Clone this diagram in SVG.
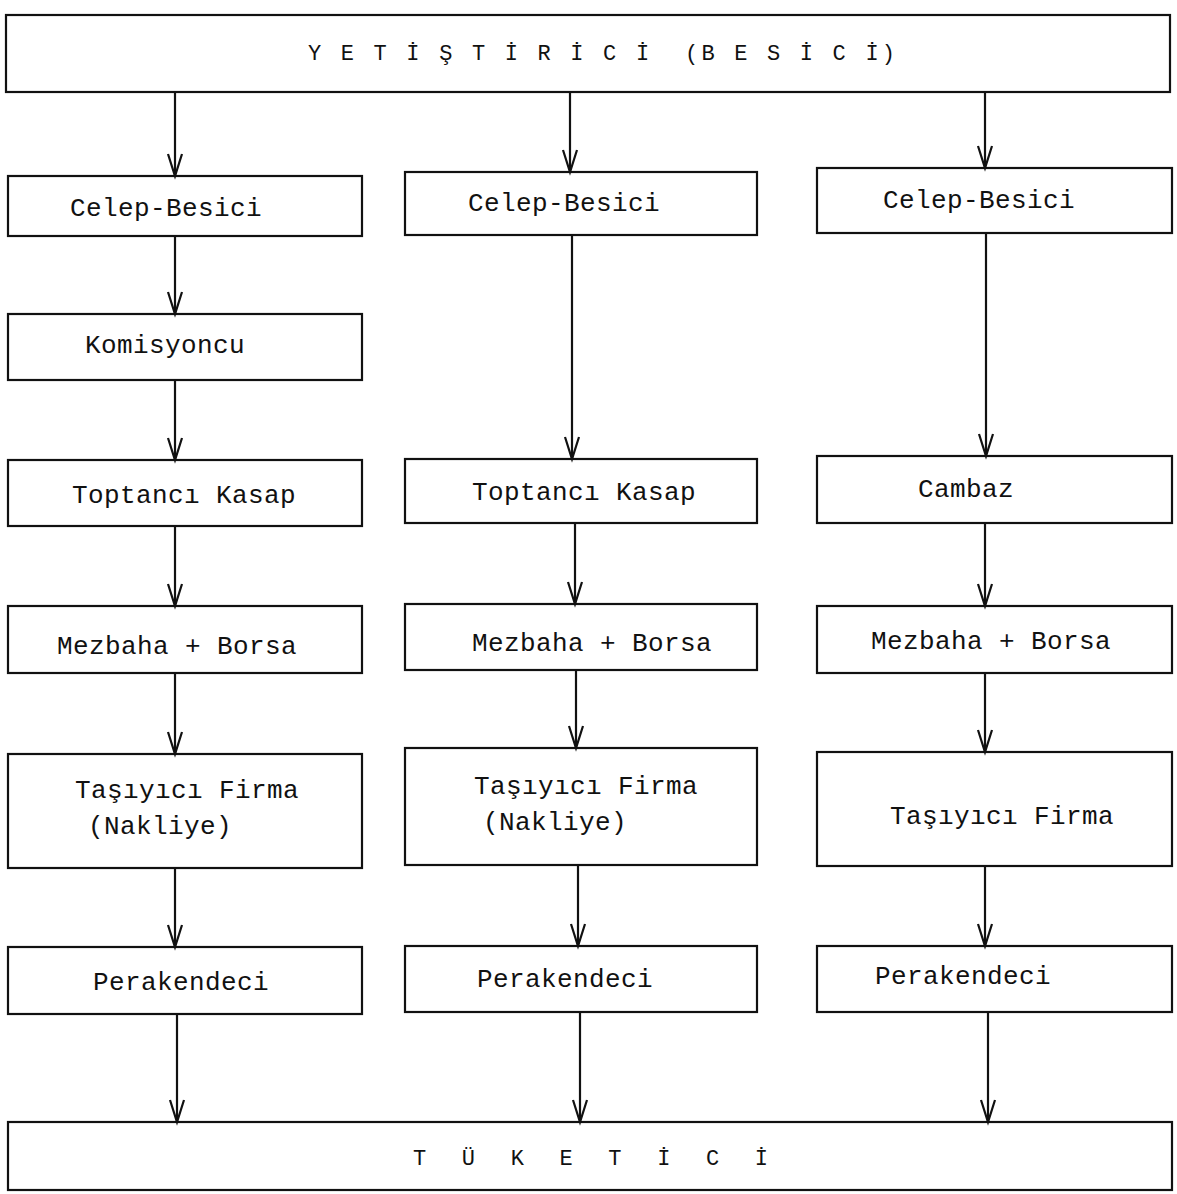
<svg xmlns="http://www.w3.org/2000/svg" width="1177" height="1194" viewBox="0 0 1177 1194">
<style>
.box{fill:none;stroke:#111;stroke-width:2.2}
.t{font-family:"Liberation Mono","DejaVu Sans Mono",monospace;font-size:26px;letter-spacing:0.4px;fill:#111}
.big{font-family:"Liberation Mono","DejaVu Sans Mono",monospace;font-size:22px;fill:#111;white-space:pre}
.c{stroke:#111;stroke-width:2.2;fill:none}
</style>
<defs>
<marker id="ah" markerUnits="userSpaceOnUse" markerWidth="30" markerHeight="20" refX="0" refY="0" orient="auto" overflow="visible">
<path d="M-22,-7 L0,0 L-22,7" fill="none" stroke="#111" stroke-width="2.2"/>
</marker>
</defs>
<rect width="1177" height="1194" fill="#fff"/>
<g id="n-top"><rect class="box" x="6" y="15" width="1164" height="77"/><text class="big" x="308" y="60" textLength="587" lengthAdjust="spacing" xml:space="preserve">Y E T İ Ş T İ R İ C İ  (B E S İ C İ)</text></g>
<g id="n-c1-celep"><rect class="box" x="8" y="176" width="354" height="60"/><text class="t" x="70" y="216">Celep-Besici</text></g>
<g id="n-c1-komis"><rect class="box" x="8" y="314" width="354" height="66"/><text class="t" x="85" y="353">Komisyoncu</text></g>
<g id="n-c1-toptan"><rect class="box" x="8" y="460" width="354" height="66"/><text class="t" x="72" y="503">Toptancı Kasap</text></g>
<g id="n-c1-mezbaha"><rect class="box" x="8" y="606" width="354" height="67"/><text class="t" x="57" y="654">Mezbaha + Borsa</text></g>
<g id="n-c1-tasiyici"><rect class="box" x="8" y="754" width="354" height="114"/><text class="t" x="75" y="798">Taşıyıcı Firma</text><text class="t" x="88" y="834">(Nakliye)</text></g>
<g id="n-c1-perak"><rect class="box" x="8" y="947" width="354" height="67"/><text class="t" x="93" y="990">Perakendeci</text></g>
<g id="n-c2-celep"><rect class="box" x="405" y="172" width="352" height="63"/><text class="t" x="468" y="211">Celep-Besici</text></g>
<g id="n-c2-toptan"><rect class="box" x="405" y="459" width="352" height="64"/><text class="t" x="472" y="500">Toptancı Kasap</text></g>
<g id="n-c2-mezbaha"><rect class="box" x="405" y="604" width="352" height="66"/><text class="t" x="472" y="651">Mezbaha + Borsa</text></g>
<g id="n-c2-tasiyici"><rect class="box" x="405" y="748" width="352" height="117"/><text class="t" x="474" y="794">Taşıyıcı Firma</text><text class="t" x="483" y="830">(Nakliye)</text></g>
<g id="n-c2-perak"><rect class="box" x="405" y="946" width="352" height="66"/><text class="t" x="477" y="987">Perakendeci</text></g>
<g id="n-c3-celep"><rect class="box" x="817" y="168" width="355" height="65"/><text class="t" x="883" y="208">Celep-Besici</text></g>
<g id="n-c3-cambaz"><rect class="box" x="817" y="456" width="355" height="67"/><text class="t" x="918" y="497">Cambaz</text></g>
<g id="n-c3-mezbaha"><rect class="box" x="817" y="606" width="355" height="67"/><text class="t" x="871" y="649">Mezbaha + Borsa</text></g>
<g id="n-c3-tasiyici"><rect class="box" x="817" y="752" width="355" height="114"/><text class="t" x="890" y="824">Taşıyıcı Firma</text></g>
<g id="n-c3-perak"><rect class="box" x="817" y="946" width="355" height="66"/><text class="t" x="875" y="984">Perakendeci</text></g>
<g id="n-bottom"><rect class="box" x="8" y="1122" width="1164" height="68"/><text class="big" x="413" y="1165" textLength="355" lengthAdjust="spacing">T Ü K E T İ C İ</text></g>
<g id="connectors">
<line class="c" x1="175" y1="92" x2="175" y2="176" marker-end="url(#ah)"/>
<line class="c" x1="175" y1="236" x2="175" y2="314" marker-end="url(#ah)"/>
<line class="c" x1="175" y1="380" x2="175" y2="460" marker-end="url(#ah)"/>
<line class="c" x1="175" y1="526" x2="175" y2="606" marker-end="url(#ah)"/>
<line class="c" x1="175" y1="673" x2="175" y2="754" marker-end="url(#ah)"/>
<line class="c" x1="175" y1="868" x2="175" y2="947" marker-end="url(#ah)"/>
<line class="c" x1="177" y1="1014" x2="177" y2="1122" marker-end="url(#ah)"/>
<line class="c" x1="570" y1="92" x2="570" y2="172" marker-end="url(#ah)"/>
<line class="c" x1="572" y1="235" x2="572" y2="459" marker-end="url(#ah)"/>
<line class="c" x1="575" y1="523" x2="575" y2="604" marker-end="url(#ah)"/>
<line class="c" x1="576" y1="670" x2="576" y2="748" marker-end="url(#ah)"/>
<line class="c" x1="578" y1="865" x2="578" y2="946" marker-end="url(#ah)"/>
<line class="c" x1="580" y1="1012" x2="580" y2="1122" marker-end="url(#ah)"/>
<line class="c" x1="985" y1="92" x2="985" y2="168" marker-end="url(#ah)"/>
<line class="c" x1="986" y1="233" x2="986" y2="456" marker-end="url(#ah)"/>
<line class="c" x1="985" y1="523" x2="985" y2="606" marker-end="url(#ah)"/>
<line class="c" x1="985" y1="673" x2="985" y2="752" marker-end="url(#ah)"/>
<line class="c" x1="985" y1="866" x2="985" y2="946" marker-end="url(#ah)"/>
<line class="c" x1="988" y1="1012" x2="988" y2="1122" marker-end="url(#ah)"/>
</g>
</svg>
